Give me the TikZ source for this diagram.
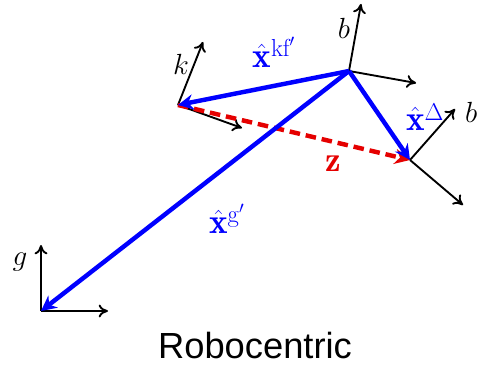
\documentclass[tikz,border=0pt]{standalone}
\usepackage{amsmath,amssymb}
\usepackage{fontspec}
\newfontfamily\capfont{Liberation Sans}
\usetikzlibrary{positioning,arrows.meta}
\tikzset{
  ax/.style={draw=black, line width=1.6pt, -{To[length=8pt,width=11pt]}},
  est/.style={draw=blue, line width=3.8pt, -{Stealth[length=13pt,width=13pt]}},
  meas/.style={draw=red!90!black, line width=3.8pt, dash pattern=on 9pt off 5pt, -{Stealth[length=13pt,width=13pt]}},
  frm/.style={font=\fontsize{29}{32}\selectfont, inner sep=1pt},
  lbl/.style={font=\fontsize{30}{33}\selectfont, inner sep=1pt},
  robo/.style={x=0.03cm, y=-0.03cm}
}

\begin{document}
\begin{tikzpicture}[robo]
  \useasboundingbox (0,0) rectangle (477,369);
  % frame origins
  \coordinate (G) at (41,311);
  \coordinate (K) at (178,105);
  \coordinate (B) at (349,71);
  \coordinate (Bp) at (410,160);
  % axis tips
  \coordinate (Gy) at (41,245);  \coordinate (Gx) at (108,311);
  \coordinate (Ky) at (203,42);  \coordinate (Kx) at (242,128);
  \coordinate (By) at (361,4);   \coordinate (Bx) at (416,83);
  \coordinate (Bpy) at (455,109); \coordinate (Bpx) at (463,205);
  \draw[ax] (G)--(Gy); \draw[ax] (G)--(Gx);
  \draw[ax] (K)--(Ky); \draw[ax] (K)--(Kx);
  \draw[ax] (B)--(By); \draw[ax] (B)--(Bx);
  \draw[ax] (Bp)--(Bpy); \draw[ax] (Bp)--(Bpx);
  \node[frm] (lg) at (20,262) {$g$};
  \node[frm] (lk) at (181,64) {$k$};
  \node[frm] (lb) at (344,28) {$b$};
  \node[frm, anchor=west, inner sep=0pt] (lbp) at (465,110) {$b'$};
  % measurement and estimates
  \draw[meas] (K)--(Bp);
  \draw[est] (B)--(K);
  \draw[est] (B)--(G);
  \draw[est] (B)--(Bp);
  \node[lbl, text=red!90!black] (lz) at (333,164) {$\mathbf{z}$};
  \node[lbl, text=blue] (lkf) at (274,52) {$\hat{\mathbf{x}}^{\mathrm{kf}'}$};
  \node[lbl, text=blue] (ld) at (425,117) {$\hat{\mathbf{x}}^{\Delta}$};
  \node[lbl, text=blue] (lgp) at (227,219) {$\hat{\mathbf{x}}^{\mathrm{g}'}$};
  \node[font=\capfont\fontsize{31}{34}\selectfont] (cap) at (255,346) {Robocentric};
\end{tikzpicture}
\end{document}
